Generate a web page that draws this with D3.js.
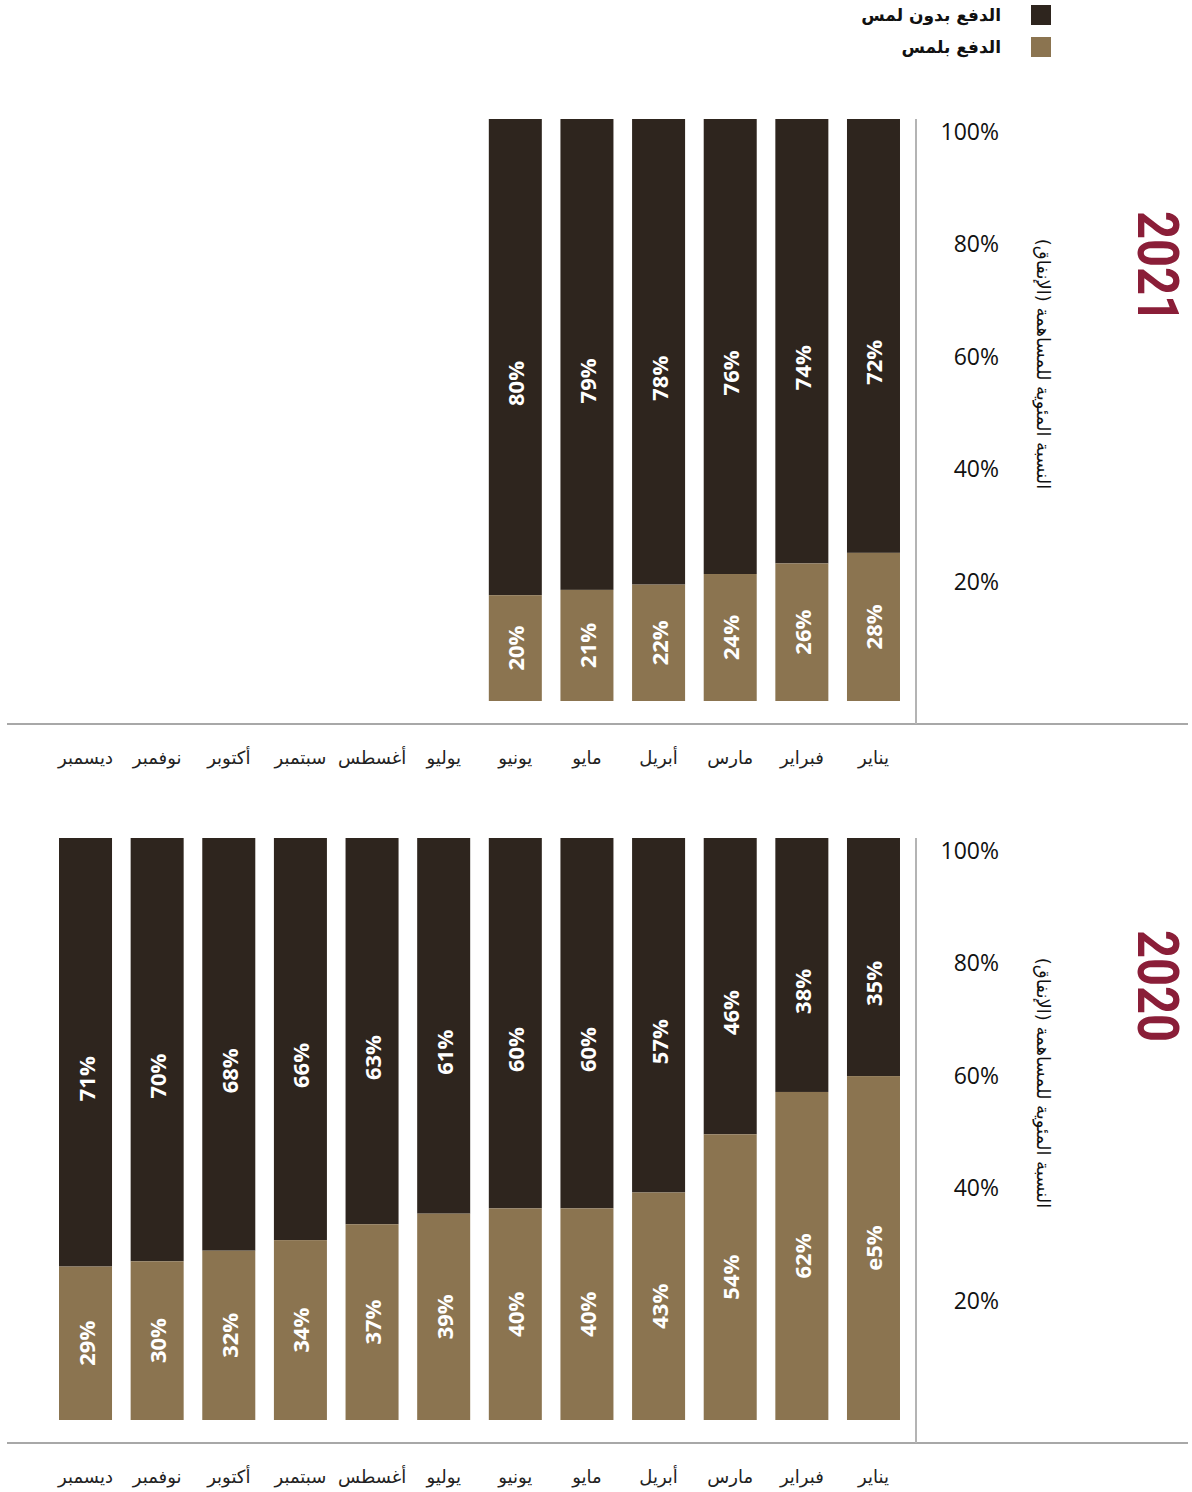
<!DOCTYPE html>
<html>
<head>
<meta charset="utf-8">
<script src="https://cdn.jsdelivr.net/npm/d3@7"></script>
<style>
  body { margin: 0; background: #fff; }
</style>
</head>
<body>
<div id="chart-area"></div>
<script>
// data
const months = ["يناير", "فبراير", "مارس", "أبريل", "مايو", "يونيو", "يوليو", "أغسطس", "سبتمبر", "أكتوبر", "نوفمبر", "ديسمبر"]
const touch2021 = [28, 26, 24, 22, 21, 20]
const contactless2021 = [72, 74, 76, 78, 79, 80]
const touch2020 = [65, 62, 54, 43, 40, 40, 39, 37, 34, 32, 30, 29]
const contactless2020 = [35, 38, 46, 57, 60, 60, 61, 63, 66, 68, 70, 71]
const tickValues = [20, 40, 60, 80, 100]
const seriesNames = ["الدفع بدون لمس", "الدفع بلمس"]
const yTitle = "النسبة المئوية للمساهمة (الإنفاق)"
// the source shows the January 2020 touch label as "e5%"
const labelFix = { "2020-0-touch": "e5%" }

const colors = { contactless: "#2e251e", touch: "#8b7450" }
const arabicFont = "'DejaVu Sans', sans-serif"

const svgWidth = 1192
const svgHeight = 1492

const svg = d3.select("#chart-area")
  .append("svg")
  .attr("width", svgWidth)
  .attr("height", svgHeight)

// legend
const legend = svg.append("g")
seriesNames.forEach((name, i) => {
  legend.append("rect")
    .attr("x", 1031).attr("y", 5 + i * 32)
    .attr("width", 20).attr("height", 20)
    .attr("fill", i === 0 ? colors.contactless : colors.touch)
  legend.append("text")
    .attr("x", 1001).attr("y", 15 + i * 32)
    .attr("text-anchor", "end")
    .attr("dominant-baseline", "central")
    .attr("font-family", arabicFont)
    .attr("font-weight", "bold")
    .attr("font-size", 17)
    .attr("fill", "#111")
    .text(name)
})

const xScale = d3.scaleBand()
  .domain(months)
  .range([909.3, 49.7])
  .paddingInner(0.26)
  .paddingOuter(0.13)

function drawPanel(year, touch, contactless, top, bottom, base) {
  const g = svg.append("g").attr("class", "panel-" + year)

  // bars are drawn against a 0-110 scale, as in the source
  const yScale = d3.scaleLinear().domain([0, 110]).range([bottom, top])
  // tick labels sit on their own spacing
  const tickScale = d3.scaleLinear().domain([0, 100]).range([bottom - 7.5, top + 12])

  const data = touch.map((t, i) => ({ month: months[i], touch: t, contactless: contactless[i], i }))

  const bars = g.selectAll(".bar").data(data).join("g").attr("class", "bar")

  bars.append("rect")
    .attr("x", d => xScale(d.month))
    .attr("width", xScale.bandwidth())
    .attr("y", yScale(110))
    .attr("height", d => yScale(d.touch) - yScale(110))
    .attr("fill", colors.contactless)

  bars.append("rect")
    .attr("x", d => xScale(d.month))
    .attr("width", xScale.bandwidth())
    .attr("y", d => yScale(d.touch))
    .attr("height", d => yScale(0) - yScale(d.touch))
    .attr("fill", colors.touch)

  const label = (sel, yFn, key) => sel.append("text")
    .attr("transform", d => `translate(${xScale(d.month) + xScale.bandwidth() / 2},${yFn(d)}) rotate(-90)`)
    .attr("text-anchor", "middle")
    .attr("dominant-baseline", "central")
    .attr("font-family", "'Open Sans', sans-serif")
    .attr("font-weight", "bold")
    .attr("font-size", 22)
    .attr("fill", "#fff")
    .text(d => labelFix[`${year}-${d.i}-${key}`] || d[key] + "%")

  label(bars, d => (yScale(d.touch) + yScale(d.touch + d.contactless)) / 2, "contactless")
  label(bars, d => (yScale(d.touch) + yScale(0)) / 2, "touch")

  // axis lines
  g.append("line")
    .attr("x1", 7).attr("x2", 1188)
    .attr("y1", base).attr("y2", base)
    .attr("stroke", "#a8a8a8").attr("stroke-width", 2)
  g.append("line")
    .attr("x1", 916).attr("x2", 916)
    .attr("y1", top).attr("y2", base)
    .attr("stroke", "#b4b4b4").attr("stroke-width", 2)

  // month labels
  g.append("g")
    .attr("transform", `translate(0,${base})`)
    .call(d3.axisBottom(xScale).tickSize(0).tickPadding(27))
    .call(a => a.select(".domain").remove())
    .call(a => a.selectAll("text")
      .attr("font-family", arabicFont)
      .attr("font-size", 18)
      .attr("fill", "#222"))

  // percentage ticks
  g.append("g")
    .attr("transform", "translate(916,0)")
    .call(d3.axisRight(tickScale).tickValues(tickValues).tickFormat(d => d + "%").tickSize(0))
    .call(a => a.select(".domain").remove())
    .call(a => a.selectAll("text")
      .attr("x", 83)
      .attr("dy", "0.35em")
      .attr("text-anchor", "end")
      .attr("font-family", "'Open Sans', sans-serif")
      .attr("font-size", 23)
      .attr("fill", "#111"))

  // y title
  g.append("text")
    .attr("transform", `translate(1043,${top + 245}) rotate(90)`)
    .attr("direction", "rtl")
    .attr("text-anchor", "middle")
    .attr("dominant-baseline", "central")
    .attr("font-family", arabicFont)
    .attr("font-size", 18)
    .attr("fill", "#111")
    .text(yTitle)

  // year
  g.append("text")
    .attr("transform", `translate(1158,${top + 148}) rotate(90)`)
    .attr("text-anchor", "middle")
    .attr("dominant-baseline", "central")
    .attr("font-family", "Roboto, sans-serif")
    .attr("font-weight", "bold")
    .attr("font-size", 58)
    .attr("textLength", 112)
    .attr("lengthAdjust", "spacingAndGlyphs")
    .attr("fill", "#8a1e38")
    .text(year)
}

drawPanel("2021", touch2021, contactless2021, 119, 701, 724)
drawPanel("2020", touch2020, contactless2020, 838, 1420, 1443)
</script>
</body>
</html>
